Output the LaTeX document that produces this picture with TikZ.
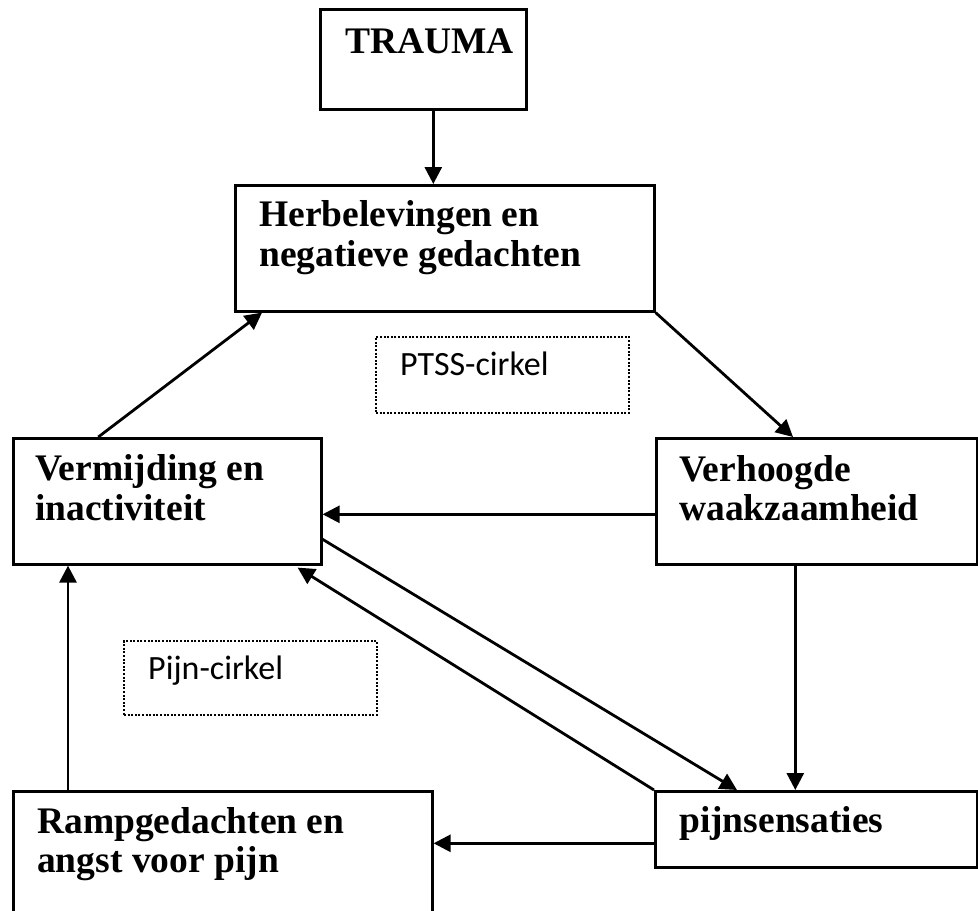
\documentclass[tikz,border=0pt]{standalone}
\usepackage{fontspec}
\setmainfont{Liberation Serif}
\newfontfamily\calfont{Carlito}
\usetikzlibrary{arrows.meta}
\begin{document}
\begin{tikzpicture}[x=1pt,y=-1pt,
 box/.style={draw, line width=2.6pt, inner sep=0pt, anchor=north west},
 dotbox/.style={draw, line width=2pt, dash pattern=on 2pt off 1.6pt, inner sep=0pt, anchor=north west},
 lbl/.style={anchor=base west, inner sep=0pt, font=\fontsize{37.5}{40}\selectfont\bfseries},
 slbl/.style={anchor=base west, inner sep=0pt, font=\fontsize{34}{38}\selectfont\calfont},
 arr/.style={line width=2.8pt, -{Triangle[length=17pt,width=17pt]}}]
\useasboundingbox (0,0) rectangle (978,911);
% boxes
\node[box, minimum width=206pt, minimum height=100pt] (trauma) at (319,8) {};
\node[box, minimum width=419pt, minimum height=126pt] (herb) at (234,184) {};
\node[dotbox, minimum width=253pt, minimum height=76pt] (ptss) at (375,336) {};
\node[box, minimum width=308pt, minimum height=126pt] (verm) at (12,437) {};
\node[box, minimum width=321pt, minimum height=126pt] (verh) at (655,437) {};
\node[dotbox, minimum width=253pt, minimum height=74pt] (pijnc) at (123,640) {};
\node[box, minimum width=419pt, minimum height=150pt] (ramp) at (12,790) {};
\node[box, minimum width=322pt, minimum height=76pt] (pijns) at (654,790) {};
% texts
\node[lbl] (t1) at (345,53) {TRAUMA};
\node[lbl] (t2a) at (259,226) {Herbelevingen en};
\node[lbl] (t2b) at (259,266) {negatieve gedachten};
\node[slbl] (t3) at (400,375) {PTSS-cirkel};
\node[lbl] (t4a) at (35,480) {Vermijding en};
\node[lbl] (t4b) at (35,520) {inactiviteit};
\node[lbl] (t5a) at (679,481) {Verhoogde};
\node[lbl] (t5b) at (679,520) {waakzaamheid};
\node[slbl] (t6) at (148,679) {Pijn-cirkel};
\node[lbl] (t7a) at (37,833) {Rampgedachten en};
\node[lbl] (t7b) at (37,872) {angst voor pijn};
\node[lbl] (t8) at (679,832) {pijnsensaties};
% arrows
\draw[arr] ([xshift=10pt]trauma.south) -- ([xshift=10pt]trauma.south |- herb.north);
\draw[arr] ([xshift=-69pt]verm.north) -- ([xshift=28pt]herb.south west);
\draw[arr] (herb.south east) -- ([xshift=138pt]verh.north west);
\draw[arr] ([yshift=-13pt]verh.west) -- ([yshift=-13pt]verh.west -| verm.east);
\draw[arr] ([xshift=-21.5pt]verh.south) -- ([xshift=-21.5pt]verh.south |- pijns.north);
\draw[arr] ([yshift=-38pt]verm.east) -- ([xshift=83pt]pijns.north west);
\draw[arr] (pijns.north west) -- ([xshift=-25pt,yshift=-2pt]verm.south east);
\draw[arr] ([yshift=-14pt]pijns.west) -- ([yshift=-14pt]pijns.west -| ramp.east);
\draw[arr] ([xshift=56pt]ramp.north west) -- ([xshift=56pt]ramp.north west |- verm.south);
\end{tikzpicture}
\end{document}
